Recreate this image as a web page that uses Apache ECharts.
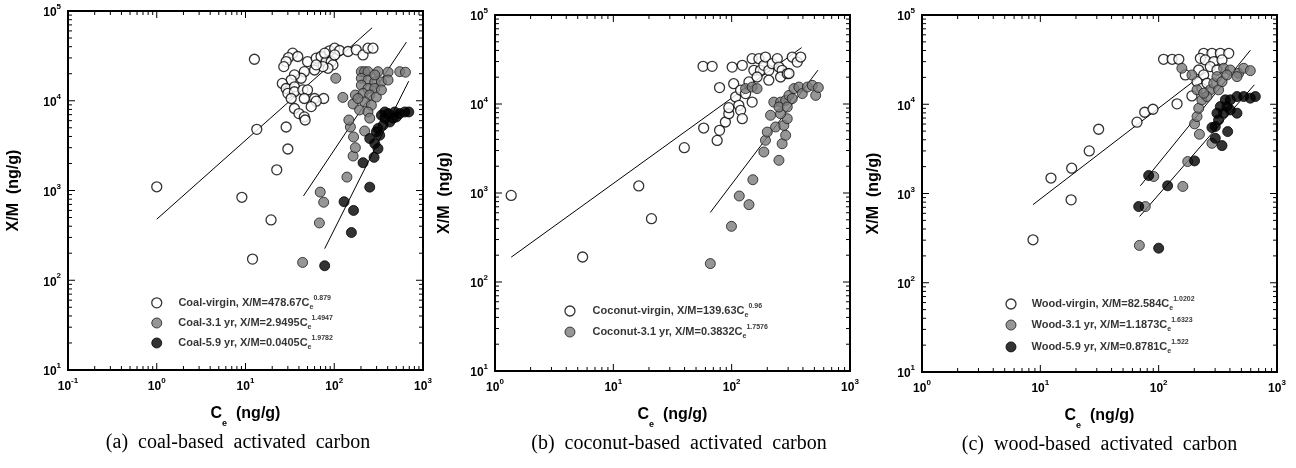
<!DOCTYPE html>
<html>
<head>
<meta charset="utf-8">
<script src="https://cdn.jsdelivr.net/npm/echarts@6/dist/echarts.min.js"></script>
<style>
  html, body { margin: 0; background: #fff; }
  #chart { width: 1296px; height: 468px; }
</style>
</head>
<body>
<div id="chart"></div>
<script>
// [Ce (ng/g), X/M (ng/g)]
const coalVirgin = [
  [1.0, 1100], [9.1, 840], [19.4, 470], [12, 172], [12.6, 29000], [13.4, 4800], [22.5, 1700], [30, 2900], [28.7, 5100],
  [34, 33900], [30.5, 30300], [38.8, 31100], [28.7, 27300], [27, 24000], [50, 27300], [62.6, 29800], [71, 31100],
  [88.5, 36000], [101, 38500], [115, 36300], [143, 35400], [177, 36900], [211, 32400], [240, 38500], [273, 38500],
  [81, 27300], [92.5, 27300], [96.6, 25100], [85, 23000], [74.5, 24000], [60, 22000], [62.6, 25100], [46, 21100],
  [42.4, 17800], [35.6, 19400], [32.7, 17000], [26, 15600], [28.7, 13700], [35.6, 14300], [30, 12100], [35.6, 12600],
  [44.3, 13200], [50, 13200], [32.7, 10600], [46, 10600], [60, 10600], [76, 10600], [62.6, 9900], [55, 8600],
  [35.6, 8200], [40, 7200], [46, 6600], [47, 6100], [101, 32400], [78, 33900]
];
const coal31 = [
  [44, 158], [68, 435], [69.5, 960], [76, 740], [139, 1410], [163, 2420], [173, 3000], [165, 3950], [152, 5100],
  [146, 6100], [220, 4600], [163, 9200], [173, 11600], [193, 7900], [104, 17800], [125, 10900], [202, 21100],
  [220, 21100], [240, 21100], [311, 21100], [404, 20800], [547, 21100], [634, 20800], [202, 17800], [240, 17000],
  [286, 16200], [340, 16200], [404, 17000], [202, 14900], [240, 13700], [286, 13700], [211, 12100], [251, 11600],
  [298, 11000], [220, 9700], [262, 8900], [240, 7500], [251, 6400], [185, 10600], [340, 13200], [286, 19400]
];
const coal59 = [
  [78, 145], [156, 340], [165, 600], [129, 750], [251, 1090], [211, 2040], [281, 2340], [311, 2930], [251, 3790],
  [286, 3330], [325, 4130], [311, 4900], [355, 5340], [371, 6400], [340, 6900], [404, 7200], [460, 6400],
  [501, 6600], [547, 7200], [624, 7500], [692, 7500], [480, 7500], [422, 5800], [371, 7500], [298, 4500]
];
const coconutVirgin = [
  [1.37, 940], [5.5, 191], [16.4, 1200], [21, 515], [39.8, 3230], [58, 5370], [57.3, 26500], [68.4, 26500],
  [79, 15300], [75.4, 3900], [79, 5060], [88.5, 6280], [94.6, 7780], [94.6, 9100], [101, 26000], [104, 16900],
  [108, 12000], [115, 9660], [119, 8490], [123, 6840], [123, 27200], [119, 14300], [131, 13100], [140, 17700],
  [149, 10500], [154, 23900], [149, 32300], [170, 32300], [175, 23900], [187, 27200], [193, 33700], [206, 23900],
  [220, 28400], [243, 32300], [251, 26000], [267, 23900], [259, 20100], [295, 21900], [305, 22000], [325, 33700],
  [358, 29600], [383, 33700], [164, 20100], [206, 18500]
];
const coconut31 = [
  [66, 161], [99.6, 422], [116, 925], [140, 740], [151, 1410], [187, 2890], [193, 3910], [200, 4840], [251, 2330],
  [267, 3580], [286, 4450], [235, 5520], [276, 5750], [295, 6840], [213, 7470], [259, 7780], [227, 10500],
  [259, 10500], [286, 11000], [305, 12500], [325, 11500], [336, 14900], [370, 15500], [395, 13100], [436, 15500],
  [480, 16200], [513, 12500], [540, 15300], [251, 9250], [295, 9250], [131, 14900], [149, 15500], [164, 14900]
];
const woodVirgin = [
  [8.67, 303], [12.3, 1490], [18.2, 850], [18.4, 1920], [25.9, 3000], [31.1, 5250], [65.6, 6300], [76.2, 8130],
  [89.5, 8790], [143, 10100], [110, 31900], [130, 31900], [148, 31900], [168, 21300], [191, 12400], [240, 37200],
  [282, 37200], [332, 37200], [391, 37200], [225, 32700], [248, 31400], [292, 30000], [343, 31400], [218, 24200],
  [240, 21300], [211, 17900], [232, 15100], [256, 17200], [273, 26400], [311, 24200]
];
const wood31 = [
  [68.7, 262], [160, 1200], [90.8, 1550], [77.1, 714], [176, 2280], [221, 4610], [201, 6030], [211, 7280],
  [218, 9020], [232, 11200], [282, 3650], [273, 14500], [256, 12200], [292, 17200], [311, 20400], [321, 14500],
  [343, 17900], [354, 25300], [403, 24200], [474, 22200], [523, 25300], [595, 23800], [157, 25300], [191, 21300],
  [211, 14500], [240, 13300], [378, 21300], [459, 20400]
];
const wood59 = [
  [100, 244], [67.8, 714], [82.3, 1590], [119, 1220], [201, 2320], [282, 5480], [301, 4160], [343, 3440],
  [383, 4940], [321, 6680], [354, 7940], [378, 9420], [403, 11200], [459, 12200], [523, 12200], [595, 11700],
  [656, 12200], [366, 11200], [332, 9420], [403, 8640], [459, 7940], [311, 7940], [301, 5620]
];

// fitted Freundlich lines, end points as drawn
const coalVirginFit = [[1, 479], [267, 65000]];
const coal31Fit = [[45, 870], [650, 45000]];
const coal59Fit = [[78, 225], [690, 16500]];
const coconutVirginFit = [[1.37, 190], [390, 43000]];
const coconut31Fit = [[66, 605], [536, 24000]];
const woodVirginFit = [[8.67, 750], [250, 23000]];
const wood31Fit = [[70, 1220], [595, 40200]];
const wood59Fit = [[69, 553], [643, 16500]];

// where each key marker sits inside its plot (data units)
const coalKeyAt = [[1, 56], [1, 33.4], [1, 20]];
const coconutKeyAt = [[4.3, 47.2], [4.3, 27.4]];
const woodKeyAt = [[5.65, 57.8], [5.65, 33.6], [5.65, 19.1]];

const yRange = [10, 100000];
const xMaxAll = 1000;

const markStyle = {
  virgin: { color: '#fff', borderColor: '#000', borderWidth: 1.3 },
  aged3: { color: '#7c7c7c', borderColor: '#1a1a1a', borderWidth: 1 },
  aged6: { color: '#000', borderColor: '#000', borderWidth: 1 }
};

const panels = [
  {
    left: 68, top: 11, width: 355, height: 359, xMin: 0.1, yNameGap: 46,
    caption: '(a)  coal-based  activated  carbon', capPad: [0, 15, 0, 0], keyAt: coalKeyAt, keyGap: 16,
    sets: [
      { kind: 'virgin', data: coalVirgin, fit: coalVirginFit, eq: 'Coal-virgin, X/M=478.67C', exp: '0.879' },
      { kind: 'aged3', data: coal31, fit: coal31Fit, eq: 'Coal-3.1 yr, X/M=2.9495C', exp: '1.4947' },
      { kind: 'aged6', data: coal59, fit: coal59Fit, eq: 'Coal-5.9 yr, X/M=0.0405C', exp: '1.9782' }
    ]
  },
  {
    left: 495, top: 15, width: 355, height: 356, xMin: 1, yNameGap: 42,
    caption: '(b)  coconut-based  activated  carbon', capPad: [0, 0, 0, 13], keyAt: coconutKeyAt, keyGap: 17,
    sets: [
      { kind: 'virgin', data: coconutVirgin, fit: coconutVirginFit, eq: 'Coconut-virgin, X/M=139.63C', exp: '0.96' },
      { kind: 'aged3', data: coconut31, fit: coconut31Fit, eq: 'Coconut-3.1 yr, X/M=0.3832C', exp: '1.7576' }
    ]
  },
  {
    left: 922, top: 15, width: 355, height: 357, xMin: 1, yNameGap: 40,
    caption: '(c)  wood-based  activated  carbon', capPad: [0, 0, 0, 0], keyAt: woodKeyAt, keyGap: 15,
    sets: [
      { kind: 'virgin', data: woodVirgin, fit: woodVirginFit, eq: 'Wood-virgin, X/M=82.584C', exp: '1.0202' },
      { kind: 'aged3', data: wood31, fit: wood31Fit, eq: 'Wood-3.1 yr, X/M=1.1873C', exp: '1.6323' },
      { kind: 'aged6', data: wood59, fit: wood59Fit, eq: 'Wood-5.9 yr, X/M=0.8781C', exp: '1.522' }
    ]
  }
];

const font = 'Liberation Sans';

function powerLabel() {
  return {
    margin: 7,
    formatter: (v) => '{b|10}{s|' + Math.round(Math.log10(v)) + '}',
    rich: {
      b: { fontFamily: font, fontWeight: 'bold', fontSize: 12, color: '#000', lineHeight: 16, verticalAlign: 'bottom' },
      s: { fontFamily: font, fontWeight: 'bold', fontSize: 8, color: '#000', lineHeight: 16, verticalAlign: 'top' }
    }
  };
}

// tick positions along a log range: decades (major) and 2..9 x 10^k (minor), ends excluded
function tickValues(min, max) {
  const out = [];
  const k0 = Math.round(Math.log10(min)), k1 = Math.round(Math.log10(max));
  for (let k = k0; k < k1; k++) {
    if (k > k0) out.push({ v: Math.pow(10, k), major: true });
    for (let m = 2; m <= 9; m++) out.push({ v: m * Math.pow(10, k), major: false });
  }
  return out;
}

// inward tick segments on all four edges, as broken polylines in data units
function tickSegments(p) {
  const pxPerDecX = p.width / Math.log10(xMaxAll / p.xMin);
  const pxPerDecY = p.height / Math.log10(yRange[1] / yRange[0]);
  const fx = (len) => Math.pow(10, len / pxPerDecX);
  const fy = (len) => Math.pow(10, len / pxPerDecY);
  const seg = [];
  tickValues(p.xMin, xMaxAll).forEach((t) => {
    const len = t.major ? 7 : 4;
    seg.push([t.v, yRange[0]], [t.v, yRange[0] * fy(len)], [t.v, '-']);
    seg.push([t.v, yRange[1]], [t.v, yRange[1] / fy(len)], [t.v, '-']);
  });
  tickValues(yRange[0], yRange[1]).forEach((t) => {
    const len = t.major ? 7 : 4;
    seg.push([p.xMin, t.v], [p.xMin * fx(len), t.v], ['-', t.v]);
    seg.push([xMaxAll, t.v], [xMaxAll / fx(len), t.v], ['-', t.v]);
  });
  return seg;
}

const option = { animation: false, grid: [], xAxis: [], yAxis: [], series: [] };

panels.forEach((p, i) => {
  option.grid.push({
    left: p.left, top: p.top, width: p.width, height: p.height,
    show: true, borderColor: '#000', borderWidth: 2, backgroundColor: 'transparent'
  });

  const axisBase = {
    type: 'log', logBase: 10, gridIndex: i, splitNumber: 5,
    axisLine: { show: true, onZero: false, lineStyle: { color: '#000', width: 2 } },
    axisTick: { show: false },
    splitLine: { show: false }
  };
  const nameStyle = { fontFamily: font, fontWeight: 'bold', fontSize: 16, color: '#000' };

  // x name carries the panel caption on a second line
  option.xAxis.push(Object.assign({}, axisBase, {
    min: p.xMin, max: xMaxAll, position: 'bottom',
    axisLabel: powerLabel(),
    name: '{c|C}{e|e}{c|  (ng/g)}\n{cap|' + p.caption + '}', nameLocation: 'middle', nameGap: 36,
    nameTextStyle: Object.assign({}, nameStyle, {
      rich: {
        c: Object.assign({}, nameStyle, { lineHeight: 22, verticalAlign: 'top' }),
        e: { fontFamily: font, fontWeight: 'bold', fontSize: 9, color: '#000', lineHeight: 22, verticalAlign: 'bottom' },
        cap: { fontFamily: 'Liberation Serif', fontWeight: 'normal', fontSize: 20, color: '#000', lineHeight: 30, padding: p.capPad }
      }
    })
  }));
  option.yAxis.push(Object.assign({}, axisBase, {
    min: yRange[0], max: yRange[1], position: 'left',
    axisLabel: powerLabel(),
    name: 'X/M  (ng/g)', nameLocation: 'middle', nameGap: p.yNameGap, nameRotate: 90,
    nameTextStyle: nameStyle
  }));

  const xi = i, yi = i;

  option.series.push({
    type: 'line', xAxisIndex: xi, yAxisIndex: yi, data: tickSegments(p),
    showSymbol: false, connectNulls: false, silent: true, z: 1,
    lineStyle: { color: '#000', width: 1 }
  });

  p.sets.forEach((s) => {
    option.series.push({
      type: 'line', xAxisIndex: xi, yAxisIndex: yi, data: s.fit, showSymbol: false, z: 2,
      lineStyle: { color: '#000', width: 1 }
    });
  });
  p.sets.forEach((s, k) => {
    option.series.push({
      type: 'scatter', xAxisIndex: xi, yAxisIndex: yi, data: s.data,
      symbol: 'circle', symbolSize: 10, z: 3 + k,
      itemStyle: markStyle[s.kind]
    });
  });

  // key: one marker per set with its equation as label
  p.sets.forEach((s, k) => {
    option.series.push({
      type: 'scatter', xAxisIndex: xi, yAxisIndex: yi, data: [p.keyAt[k]],
      symbol: 'circle', symbolSize: 10, z: 8,
      itemStyle: markStyle[s.kind],
      label: {
        show: true, position: 'right', distance: p.keyGap,
        formatter: () => '{t|' + s.eq + '}{sub|e}{sup|' + s.exp + '}',
        rich: {
          t: { fontFamily: font, fontWeight: 'bold', fontSize: 11, color: '#000', lineHeight: 16 },
          sub: { fontFamily: font, fontWeight: 'bold', fontSize: 7, color: '#000', lineHeight: 16, verticalAlign: 'bottom' },
          sup: { fontFamily: font, fontWeight: 'bold', fontSize: 7, color: '#000', lineHeight: 16, verticalAlign: 'top' }
        }
      }
    });
  });
});

const chart = echarts.init(document.getElementById('chart'));
chart.setOption(option);
</script>
</body>
</html>
